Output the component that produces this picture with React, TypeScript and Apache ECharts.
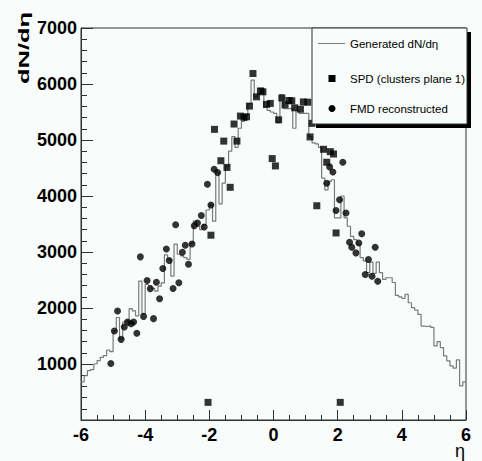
import React, { useEffect, useRef } from "react";
import * as echarts from "echarts";

// Histogram: lower bin edge starts at -6, bin width 0.1 (120 bins)
const histLowEdge = -6;
const histBinWidth = 0.1;
const histUpEdge = 6;
const generated = [
  680, 790, 880, 900, 1000, 1060, 1120, 1150, 1250, 1220,
  1590, 1830, 1450, 1750, 1770, 1990, 1950, 1860, 2480, 1900,
  2420, 2400, 2350, 2300, 2390, 2450, 2950, 2870, 2570, 3140,
  2960, 2930, 2900, 2870, 3160, 3550, 3460, 3400, 3490, 3750,
  3840, 3550, 4420, 3860, 4230, 4530, 4800, 5060, 4870, 5210,
  5330, 5445, 5650, 6070, 5770, 5920, 5920, 5590, 5530, 5500,
  5475, 5310, 5810, 5560, 5560, 5560, 5210, 5530, 5475, 5475,
  5475, 5060, 4950, 4930, 4870, 4320, 4110, 4260, 4290, 3610,
  3610, 4000, 3610, 3460, 3280, 3220, 3130, 2900, 2840, 2630,
  2820, 2620, 2820, 2630, 2510, 2540, 2540, 2455, 2224, 2200,
  2170, 2242, 2094, 2005, 1963, 1886, 1678, 1670, 1680, 1655,
  1322, 1400, 1293, 1144, 1055, 966, 925, 1073, 610, 681,
];

const spdEta = [
  -2.04, 2.08, -1.95, -1.84, -1.64, -1.55, -1.45, -1.35, -1.23, -1.14,
  -1.03, -0.92, -0.84, -0.75, -0.64, -0.53, -0.4, -0.33, -0.22, -0.1,
  -0.04, 0.06, 0.16, 0.26, 0.36, 0.48, 0.57, 0.66, 0.84, 0.93,
  1.07, 1.14, 1.2, 1.35, 1.56, 1.66, 1.77, 1.87, 1.95,
];
const spdVal = [
  315, 315, 3300, 5190, 4630, 4980, 4510, 4155, 5285, 4980,
  5427, 5404, 5415, 5605, 6187, 5771, 5877, 5860, 5635, 5653,
  4668, 4537, 5360, 5750, 5630, 5705, 5700, 5575, 5550, 5680,
  5675, 5055, 5297, 3826, 4834, 4603, 4792, 4750, 3340,
];

const fmdEta = [
  -5.07, -4.96, -4.86, -4.75, -4.65, -4.55, -4.44, -4.36, -4.26, -4.15,
  -4.05, -3.94, -3.84, -3.74, -3.65, -3.55, -3.45, -3.34, -3.25, -3.13,
  -3.05, -2.95, -2.84, -2.75, -2.65, -2.54, -2.47, -2.37, -2.25, -2.16,
  -2.06, -1.95, -1.85, -1.74,
  1.66, 1.75, 1.85, 1.95, 2.06, 2.16, 2.26, 2.37, 2.44, 2.57,
  2.66, 2.75, 2.86, 2.96, 3.07, 3.17, 3.25,
];
const fmdVal = [
  1009, 1589, 1945, 1440, 1660, 1750, 1720, 1750, 1548, 2913,
  1850, 2491, 2343, 1810, 2461, 2165, 2705, 3055, 2847, 2349,
  3488, 2450, 2995, 3120, 2782, 3144, 3470, 3517, 3653, 3447,
  4211, 3838, 4479, 4418,
  4229, 4520, 4430, 3742, 3932, 4603, 3695, 3173, 3084, 2984,
  3162, 3327, 2598, 2865, 2568, 3084, 2479,
];

const legendLabels = ["Generated dN/d\u03b7", "SPD (clusters plane 1)", "FMD reconstructed"];
const xTitle = "\u03b7";
const yTitle = "dN/d\u03b7";

const BG = "#f8fcfa";
const FONT = "'Liberation Sans', Arial, Helvetica, sans-serif";

export default function App() {
  const ref = useRef<HTMLDivElement>(null);
  useEffect(() => {
    document.body.style.margin = "0";
    document.body.style.background = BG;
    if (!ref.current) return;
    const chart = echarts.init(ref.current, undefined, { renderer: "svg" });

    const histData: number[][] = generated.map((v, i) => [
      Number((histLowEdge + i * histBinWidth).toFixed(2)),
      v,
    ]);
    histData.push([histUpEdge, generated[generated.length - 1]]);
    const spdData = spdEta.map((e, i) => [e, spdVal[i]]);
    const fmdData = fmdEta.map((e, i) => [e, fmdVal[i]]);

    const axisColor = "#333";
    chart.setOption({
      animation: false,
      backgroundColor: BG,
      grid: {
        left: 81,
        right: 16,
        top: 28,
        bottom: 41,
        show: true,
        borderColor: axisColor,
        borderWidth: 1,
        backgroundColor: "transparent",
      },
      xAxis: {
        type: "value",
        min: -6,
        max: 6,
        interval: 2,
        axisLine: { show: true, onZero: false, lineStyle: { color: axisColor, width: 1 } },
        axisTick: { show: true, inside: true, length: 10, lineStyle: { color: axisColor } },
        minorTick: { show: true, splitNumber: 4, length: 5, lineStyle: { color: axisColor } },
        splitLine: { show: false },
        axisLabel: {
          show: true,
          color: "#000",
          fontSize: 18,
          fontWeight: "bold",
          fontFamily: FONT,
          margin: 6,
          showMinLabel: true,
          showMaxLabel: true,
        },
      },
      yAxis: {
        type: "value",
        min: 0,
        max: 7000,
        interval: 1000,
        axisLine: { show: true, onZero: false, lineStyle: { color: axisColor, width: 1 } },
        axisTick: { show: true, inside: true, length: 12, lineStyle: { color: axisColor } },
        minorTick: { show: true, splitNumber: 5, length: 6, lineStyle: { color: axisColor } },
        splitLine: { show: false },
        axisLabel: {
          show: true,
          color: "#000",
          fontSize: 18,
          fontWeight: "bold",
          fontFamily: FONT,
          margin: 4,
          formatter: (v: number) => (v === 0 ? "" : String(v)),
        },
      },
      series: [
        {
          name: legendLabels[0],
          type: "line",
          step: "end",
          data: histData,
          showSymbol: false,
          symbol: "none",
          lineStyle: { color: "#7a7a7a", width: 1.2 },
          z: 2,
        },
        {
          name: legendLabels[1],
          type: "scatter",
          symbol: "rect",
          symbolSize: 7,
          data: spdData,
          itemStyle: { color: "#000" },
          z: 3,
        },
        {
          name: legendLabels[2],
          type: "scatter",
          symbol: "circle",
          symbolSize: 7,
          data: fmdData,
          itemStyle: { color: "#000" },
          z: 3,
        },
      ],
      graphic: [
        {
          type: "text",
          x: 23.5,
          y: 48,
          rotation: Math.PI / 2,
          scaleX: 1.7,
          style: {
            text: yTitle,
            fontSize: 15,
            fontWeight: "bold",
            fontFamily: FONT,
            fill: "#000",
            align: "center",
            verticalAlign: "middle",
          },
          z: 100,
        },
        {
          type: "text",
          x: 460,
          y: 451,
          style: {
            text: xTitle,
            fontSize: 18,
            fontFamily: FONT,
            fill: "#000",
            align: "center",
            verticalAlign: "middle",
          },
          z: 100,
        },
        {
          type: "rect",
          shape: { x: 316, y: 32, width: 155, height: 96 },
          style: { fill: "#000" },
          z: 100,
        },
        {
          type: "rect",
          shape: { x: 312, y: 28, width: 155, height: 96 },
          style: { fill: BG, stroke: axisColor, lineWidth: 1 },
          z: 101,
        },
        {
          type: "line",
          shape: { x1: 318, y1: 43.5, x2: 345, y2: 43.5 },
          style: { stroke: "#7a7a7a", lineWidth: 1 },
          z: 102,
        },
        {
          type: "text",
          x: 350,
          y: 43.5,
          style: {
            text: legendLabels[0],
            fontSize: 11.5,
            fontFamily: FONT,
            fill: "#000",
            verticalAlign: "middle",
          },
          z: 102,
        },
        {
          type: "rect",
          shape: { x: 328.5, y: 75, width: 7, height: 7 },
          style: { fill: "#000" },
          z: 102,
        },
        {
          type: "text",
          x: 350,
          y: 78.5,
          style: {
            text: legendLabels[1],
            fontSize: 11.5,
            fontFamily: FONT,
            fill: "#000",
            verticalAlign: "middle",
          },
          z: 102,
        },
        {
          type: "circle",
          shape: { cx: 332, cy: 108.5, r: 3.5 },
          style: { fill: "#000" },
          z: 102,
        },
        {
          type: "text",
          x: 350,
          y: 108.5,
          style: {
            text: legendLabels[2],
            fontSize: 11.5,
            fontFamily: FONT,
            fill: "#000",
            verticalAlign: "middle",
          },
          z: 102,
        },
      ],
    });
    return () => chart.dispose();
  }, []);
  return <div ref={ref} style={{ width: 482, height: 461 }} />;
}
